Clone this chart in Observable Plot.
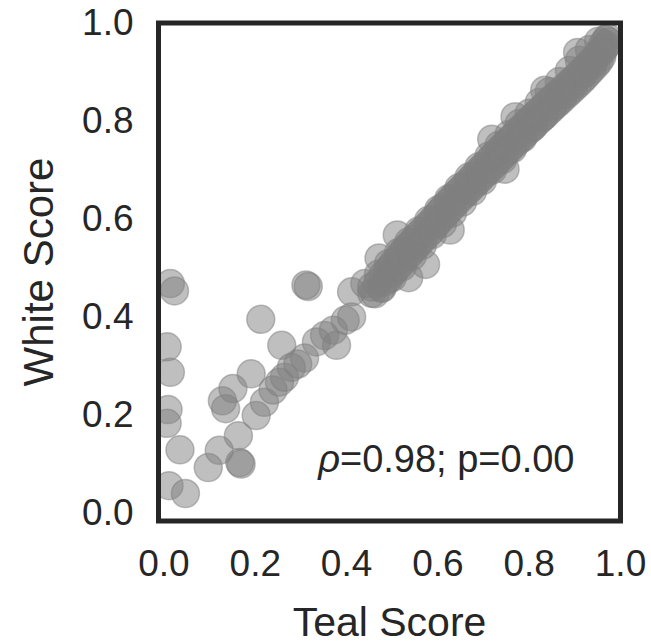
<!DOCTYPE html>
<html>
<head>
<meta charset="utf-8">
<script src="https://cdn.jsdelivr.net/npm/d3@7"></script>
<script src="https://cdn.jsdelivr.net/npm/@observablehq/plot@0.6"></script>
<style>
  html, body { margin: 0; padding: 0; background: #fff; }
  #chart svg { display: block; }
</style>
</head>
<body>
<div id="chart"></div>
<script>
// Tick labels
const xTicks = [0, 0.2, 0.4, 0.6, 0.8, 1.0];
const yTicks = [0, 0.2, 0.4, 0.6, 0.8, 1.0];
const xLabel = "Teal Score";
const yLabel = "White Score";
const annotation = [{x: 0.6185, y: 0.084, text: "ρ=0.98; p=0.00"}];

// Scattered low-score points (Teal, White)
const lowTeal  = [0.014,0.023,0.007,0.014,0.009,0.007,0.035,0.011,0.047,0.097,0.121,0.169,0.166,0.163,0.135,0.128,0.151,0.191,0.212,0.258,0.311,0.316,0.202,0.220,0.239,0.253,0.264,0.279,0.293,0.308,0.334,0.352,0.371,0.378,0.397,0.411,0.411,0.440,0.455];
const lowWhite = [0.469,0.454,0.340,0.288,0.212,0.184,0.130,0.057,0.041,0.094,0.129,0.101,0.104,0.159,0.214,0.230,0.255,0.285,0.396,0.343,0.466,0.463,0.200,0.227,0.252,0.268,0.278,0.298,0.305,0.317,0.350,0.363,0.374,0.343,0.394,0.401,0.452,0.469,0.449];

// Dense diagonal band, core (Teal, White)
const bandTeal = [
  0.455,0.462,0.468,0.471,0.476,0.480,0.484,0.489,0.492,0.497,0.500,0.503,0.507,0.511,0.513,0.516,0.520,0.523,0.527,0.530,
  0.534,0.536,0.539,0.542,0.546,0.549,0.553,0.557,0.560,0.564,0.568,0.573,0.575,0.579,0.583,0.587,0.591,0.595,0.599,0.602,
  0.606,0.610,0.614,0.618,0.627,0.622,0.626,0.630,0.634,0.638,0.642,0.646,0.650,0.654,0.658,0.662,0.666,0.670,0.674,0.678,
  0.682,0.686,0.690,0.694,0.698,0.702,0.706,0.710,0.714,0.718,0.718,0.722,0.726,0.730,0.734,0.738,0.742,0.747,0.746,0.750,
  0.754,0.758,0.762,0.766,0.769,0.770,0.774,0.778,0.782,0.786,0.790,0.794,0.798,0.802,0.806,0.810,0.814,0.818,0.822,0.826,
  0.830,0.834,0.834,0.838,0.842,0.846,0.850,0.854,0.858,0.862,0.866,0.870,0.874,0.878,0.882,0.886,0.890,0.894,0.898,0.902,
  0.906,0.906,0.910,0.914,0.918,0.922,0.926,0.930,0.934,0.938,0.942,0.946,0.950,0.953,0.956,0.959,0.962,0.965,0.968,0.970,
  0.972,0.974
];
const bandWhite = [
  0.462,0.448,0.470,0.521,0.460,0.486,0.472,0.495,0.478,0.503,0.490,0.512,0.497,0.568,0.520,0.505,0.530,0.515,0.538,0.522,
  0.545,0.481,0.530,0.552,0.538,0.560,0.545,0.568,0.552,0.575,0.560,0.508,0.585,0.570,0.593,0.578,0.601,0.588,0.610,0.596,
  0.618,0.604,0.626,0.611,0.578,0.634,0.620,0.642,0.628,0.650,0.636,0.657,0.643,0.665,0.651,0.672,0.658,0.680,0.665,0.688,
  0.673,0.695,0.680,0.703,0.688,0.710,0.695,0.718,0.703,0.763,0.726,0.710,0.733,0.718,0.741,0.725,0.748,0.702,0.733,0.756,
  0.740,0.763,0.748,0.770,0.809,0.755,0.778,0.762,0.785,0.769,0.792,0.777,0.800,0.784,0.807,0.791,0.814,0.798,0.821,0.805,
  0.828,0.863,0.812,0.835,0.819,0.842,0.826,0.849,0.833,0.856,0.840,0.862,0.847,0.869,0.854,0.876,0.861,0.883,0.868,0.890,
  0.940,0.875,0.897,0.882,0.905,0.890,0.912,0.898,0.920,0.906,0.928,0.914,0.936,0.922,0.944,0.931,0.958,0.950,0.966,0.955,
  0.970,0.962
];

// Dense diagonal band, outer spread (Teal, White)
const edgeTeal  = [0.470,0.478,0.492,0.500,0.514,0.522,0.536,0.544,0.558,0.566,0.580,0.588,0.602,0.610,0.624,0.632,0.646,0.654,0.668,0.676,
                   0.690,0.698,0.712,0.720,0.734,0.742,0.756,0.764,0.778,0.786,0.800,0.808,0.822,0.830,0.844,0.852,0.866,0.874,0.888,0.896,
                   0.910,0.918,0.932,0.940,0.952,0.960];
const edgeWhite = [0.488,0.460,0.510,0.481,0.532,0.503,0.554,0.525,0.576,0.547,0.598,0.569,0.620,0.591,0.642,0.613,0.664,0.635,0.686,0.657,
                   0.707,0.679,0.729,0.701,0.751,0.722,0.773,0.744,0.795,0.766,0.816,0.788,0.838,0.809,0.860,0.831,0.881,0.853,0.903,0.874,
                   0.924,0.896,0.946,0.917,0.963,0.941];

const points = [
  ...lowTeal.map((t, i) => ({teal: t, white: lowWhite[i]})),
  ...bandTeal.map((t, i) => ({teal: t, white: bandWhite[i]})),
  ...edgeTeal.map((t, i) => ({teal: t, white: edgeWhite[i]}))
];

const ink = "#262626";
const dotColor = "#808080";

const chart = Plot.plot({
  width: 651,
  height: 644,
  marginLeft: 158,
  marginRight: 31,
  marginTop: 22.5,
  marginBottom: 123.5,
  style: {fontFamily: "'Liberation Sans', Arial, Helvetica, sans-serif", fontSize: "37px", color: ink, background: "#fff"},
  x: {domain: [-0.012, 1]},
  y: {domain: [-0.015, 1]},
  marks: [
    Plot.dot(points, {x: "teal", y: "white", r: 14, fill: dotColor, fillOpacity: 0.5, stroke: dotColor, strokeOpacity: 0.5, strokeWidth: 1.5, clip: true}),
    Plot.axisX({ticks: xTicks, tickFormat: d3.format(".1f"), tickSize: 0, tickPadding: 29, label: null, fontSize: 37}),
    Plot.axisY({ticks: yTicks, tickFormat: d3.format(".1f"), tickSize: 0, tickPadding: 25, label: null, fontSize: 37}),
    Plot.text([xLabel], {frameAnchor: "bottom", dy: 114.5, lineAnchor: "bottom", textAnchor: "middle", fontSize: 41, fill: ink}),
    Plot.text([yLabel], {frameAnchor: "left", rotate: -90, dx: -106, lineAnchor: "bottom", textAnchor: "middle", fontSize: 42, fill: ink}),
    Plot.text(annotation, {x: "x", y: "y", text: "text", lineAnchor: "bottom", textAnchor: "middle", fontSize: 38, fill: ink}),
    Plot.frame({stroke: ink, strokeWidth: 5})
  ]
});

// italicize the rho symbol in the annotation
chart.querySelectorAll("text").forEach(t => {
  const s = t.textContent;
  if (s.startsWith("ρ")) {
    t.textContent = "";
    const ns = "http://www.w3.org/2000/svg";
    const a = document.createElementNS(ns, "tspan");
    a.setAttribute("font-style", "italic");
    a.textContent = "ρ";
    const b = document.createElementNS(ns, "tspan");
    b.textContent = s.slice(1);
    t.appendChild(a);
    t.appendChild(b);
  }
});

document.getElementById("chart").appendChild(chart);
</script>
</body>
</html>
